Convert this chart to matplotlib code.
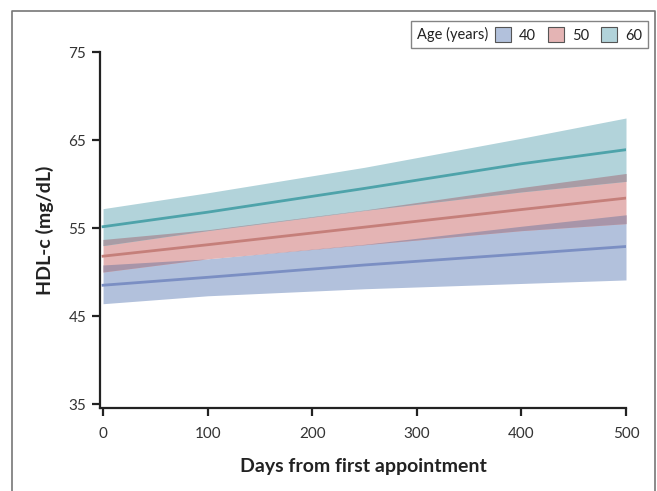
import matplotlib
matplotlib.use("Agg")
import matplotlib.pyplot as plt
from matplotlib.patches import Patch
from matplotlib.lines import Line2D
from matplotlib.offsetbox import HPacker
import numpy as np

# values
days = [0, 100, 250, 400, 500]

mean_40 = [48.5, 49.4, 50.8, 52.05, 52.9]
lo_40 = [46.4, 47.3, 48.1, 48.7, 49.1]
hi_40 = [50.8, 51.5, 53.15, 55.2, 56.5]

mean_50 = [51.8, 53.1, 55.1, 57.1, 58.4]
lo_50 = [50.0, 51.5, 53.1, 54.7, 55.5]
hi_50 = [53.7, 54.8, 57.05, 59.6, 61.2]

mean_60 = [55.15, 56.8, 59.5, 62.3, 63.9]
lo_60 = [53.0, 54.7, 57.0, 59.1, 60.3]
hi_60 = [57.2, 59.0, 61.9, 65.2, 67.5]

ages = ["40", "50", "60"]
y_ticks = [35, 45, 55, 65, 75]
x_ticks = [0, 100, 200, 300, 400, 500]

band_colors = ["#b2c1dc", "#e4b4b4", "#b2d3da"]
line_colors = ["#7b8fc3", "#c57f7a", "#4ea3aa"]
overlap_40_50 = "#a895a9"
overlap_50_60 = "#a99ca5"

plt.rcParams["font.family"] = ["Lato", "DejaVu Sans"]

fig = plt.figure(figsize=(6.57, 4.91), dpi=100)
ax = fig.add_axes([100 / 657, 1 - 408 / 491, 526 / 657, 356 / 491])

x = np.array(days)
series = [(mean_40, lo_40, hi_40), (mean_50, lo_50, hi_50), (mean_60, lo_60, hi_60)]
for (m, lo, hi), bc in zip(series, band_colors):
    ax.fill_between(x, lo, hi, color=bc, linewidth=0, zorder=1)

# overlapping parts of neighbouring bands
for (a, b, col) in [(1, 0, overlap_40_50), (2, 1, overlap_50_60)]:
    low = np.maximum(series[a][1], series[b][1])
    high = np.minimum(series[a][2], series[b][2])
    ax.fill_between(x, low, np.maximum(high, low), color=col, linewidth=0, zorder=2)

for (m, lo, hi), lc in zip(series, line_colors):
    ax.plot(x, m, color=lc, linewidth=2, zorder=3)

ax.set_xlim(-2.9, 500)
ax.set_ylim(34.55, 75)
ax.set_xticks(x_ticks)
ax.set_yticks(y_ticks)
for s in ["top", "right"]:
    ax.spines[s].set_visible(False)
for s in ["left", "bottom"]:
    ax.spines[s].set_linewidth(1.6)
    ax.spines[s].set_color("#222222")
ax.tick_params(width=1.6, length=6, color="#222222", labelsize=11, labelcolor="#333333")
ax.tick_params(axis="x", pad=8)
ax.tick_params(axis="y", pad=4)

ax.set_xlabel("Days from first appointment", fontsize=14, fontweight="bold",
              color="#222222", labelpad=12)
ax.set_ylabel("HDL-c (mg/dL)", fontsize=14, fontweight="bold",
              color="#222222", labelpad=10)

handles = [Patch(facecolor=bc, edgecolor="#555555", linewidth=0.8) for bc in band_colors]
leg = fig.legend(handles, ages, ncol=3, loc="upper right", title="Age (years)",
                 title_fontsize=10.5, bbox_to_anchor=(655 / 657, 1 - 14 / 491),
                 fontsize=10.5, frameon=True, fancybox=False, edgecolor="#666666",
                 handlelength=1.1, handleheight=1.2, handletextpad=0.55,
                 columnspacing=0.8, borderpad=0.4)
leg.get_frame().set_linewidth(1.0)
# put the title to the left of the entries, on one row
old = leg._legend_box
row = HPacker(pad=old.pad, sep=5, align="center", children=old.get_children())
row.set_figure(fig)
row.set_offset(leg._findoffset)
leg._legend_box = row
leg.get_title().set_color("#222222")
for t in leg.get_texts():
    t.set_color("#222222")

# outer frame (left, top, right)
fx = [12 / 657, 12 / 657, 655 / 657, 655 / 657]
fy = [0, 1 - 11 / 491, 1 - 11 / 491, 0]
fig.add_artist(Line2D(fx, fy, transform=fig.transFigure, color="#777777", linewidth=1.2))

fig.savefig("out.png", dpi=100)
